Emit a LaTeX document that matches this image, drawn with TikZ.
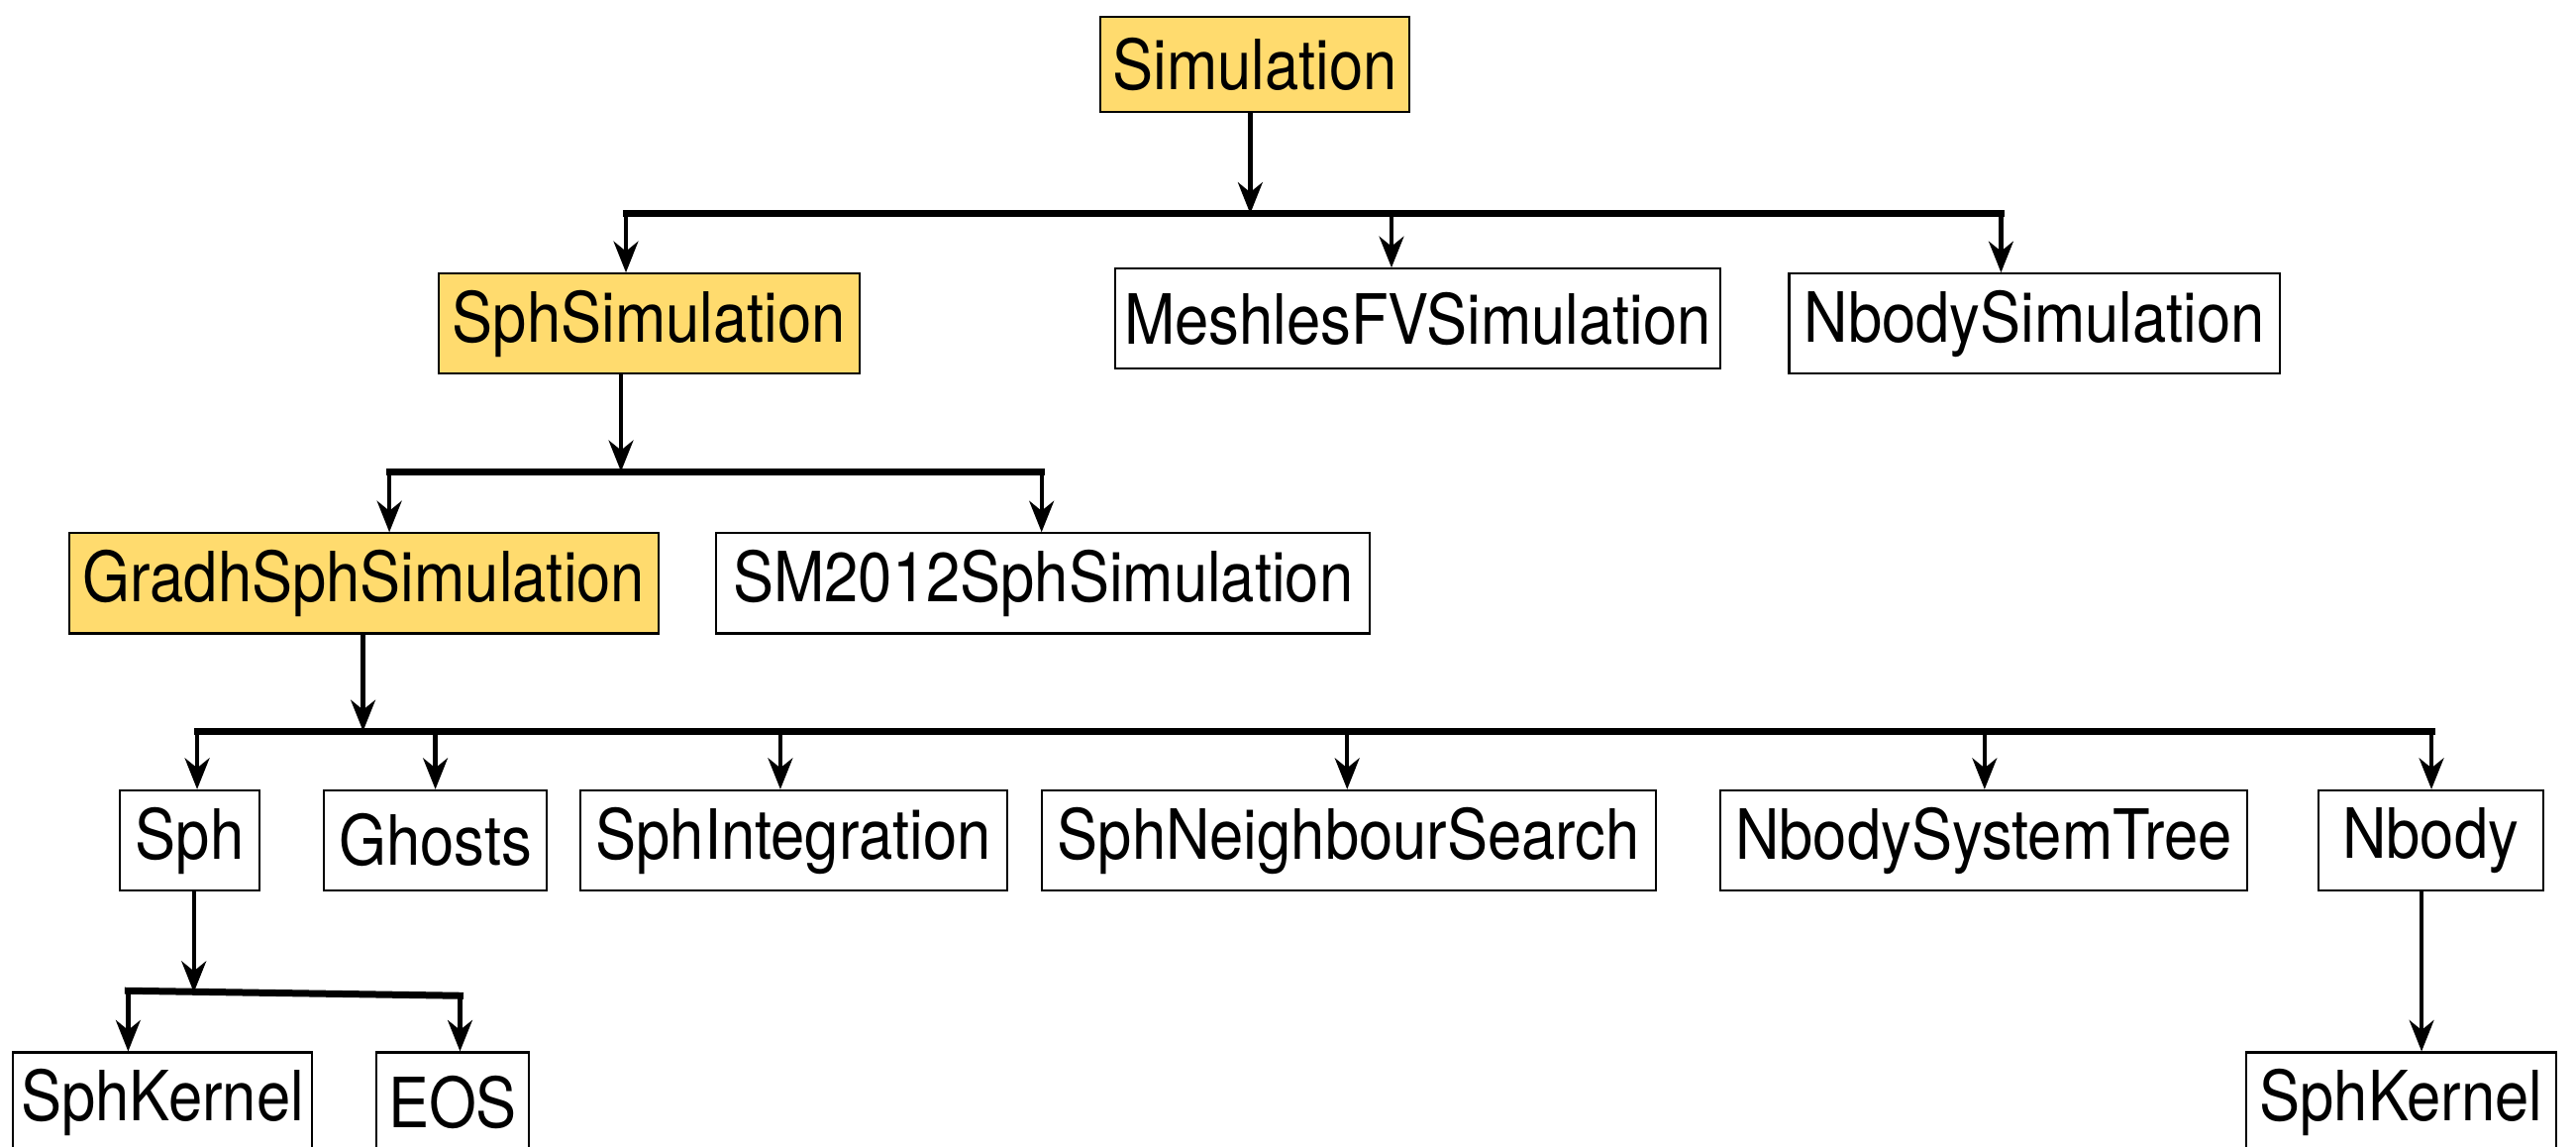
\documentclass[tikz,border=0pt]{standalone}
\usepackage{fontspec}
\setmainfont{TeX Gyre Heros}[FakeStretch=0.88]
\usetikzlibrary{arrows.meta}
\definecolor{baseyellow}{RGB}{255,219,110}
\tikzset{
  cls/.style={draw, line width=0.7pt, inner sep=0pt, minimum height=1.22cm,
    font=\fontsize{24}{26}\selectfont},
  base/.style={cls, fill=baseyellow},
  link/.style={line width=1.5pt, -{Stealth[length=0.38cm,width=0.3cm,inset=0.12cm]}},
  bar/.style={line width=2.4pt, line cap=rect},
}
\begin{document}
\begin{tikzpicture}[x=0.02cm, y=-0.02cm]
  \useasboundingbox (0,0) rectangle (1568,698);
  \draw
    (764,39) node[base, minimum width=3.76cm, minimum height=1.16cm] (sim){Simulation}
    (395,197) node[base, minimum width=5.12cm] (sphsim){SphSimulation}
    (863,194) node[cls, minimum width=7.36cm] (mfv){MeshlesFVSimulation}
    (1238.5,197) node[cls, minimum width=5.98cm] (nbsim){NbodySimulation}
    (221.5,355) node[base, minimum width=7.18cm] (gradh){GradhSphSimulation}
    (635,355) node[cls, minimum width=7.96cm] (sm){SM2012SphSimulation}
    (115.5,511.5) node[cls, minimum width=1.70cm] (sph){Sph}
    (265,511.5) node[cls, minimum width=2.72cm] (ghosts){Ghosts}
    (483,511.5) node[cls, minimum width=5.20cm] (integ){SphIntegration}
    (821,511.5) node[cls, minimum width=7.48cm] (neib){SphNeighbourSearch}
    (1207.5,511.5) node[cls, minimum width=6.42cm] (tree){NbodySystemTree}
    (1479.5,511.5) node[cls, minimum width=2.74cm] (nbody){Nbody}
    (99,671) node[cls, minimum width=3.64cm] (kern){SphKernel}
    (275.5,671) node[cls, minimum width=1.86cm] (eos){EOS}
    (1461.5,671) node[cls, minimum width=3.78cm] (nkern){SphKernel};

  % junctions on the bars
  \coordinate (j1) at (761,130);
  \coordinate (j2) at (378,287);
  \coordinate (j3) at (221,445);
  \coordinate (j4) at (118,604);
  \coordinate (a1) at (381,130);
  \coordinate (a2) at (847,130);
  \coordinate (a3) at (1218,130);
  \coordinate (b1) at (237,287);
  \coordinate (b2) at (634,287);
  \coordinate (c1) at (120,445);
  \coordinate (c2) at (265,445);
  \coordinate (c3) at (475,445);
  \coordinate (c4) at (820,445);
  \coordinate (c5) at (1208,445);
  \coordinate (c6) at (1480,445);
  \coordinate (d1) at (78,603);
  \coordinate (d2) at (280,606);
  \coordinate (e1) at (1474,640);

  \begin{scope}[bar]
    \draw (a1) -- (a3);
    \draw (b1) -- (b2);
    \draw (c1) -- (c6);
    \draw (d1) -- (d2);
  \end{scope}
  \begin{scope}[link]
    \draw (j1 |- sim.south) -- (j1);
    \draw (a1) -- (a1 |- sphsim.north);
    \draw (a2) -- (a2 |- mfv.north);
    \draw (a3) -- (a3 |- nbsim.north);
    \draw (j2 |- sphsim.south) -- (j2);
    \draw (b1) -- (b1 |- gradh.north);
    \draw (b2) -- (b2 |- sm.north);
    \draw (j3 |- gradh.south) -- (j3);
    \draw (c1) -- (c1 |- sph.north);
    \draw (c2) -- (c2 |- ghosts.north);
    \draw (c3) -- (c3 |- integ.north);
    \draw (c4) -- (c4 |- neib.north);
    \draw (c5) -- (c5 |- tree.north);
    \draw (c6) -- (c6 |- nbody.north);
    \draw (j4 |- sph.south) -- (j4);
    \draw (d1) -- (d1 |- kern.north);
    \draw (d2) -- (d2 |- eos.north);
    \draw (e1 |- nbody.south) -- (e1 |- nkern.north);
  \end{scope}
\end{tikzpicture}
\end{document}
